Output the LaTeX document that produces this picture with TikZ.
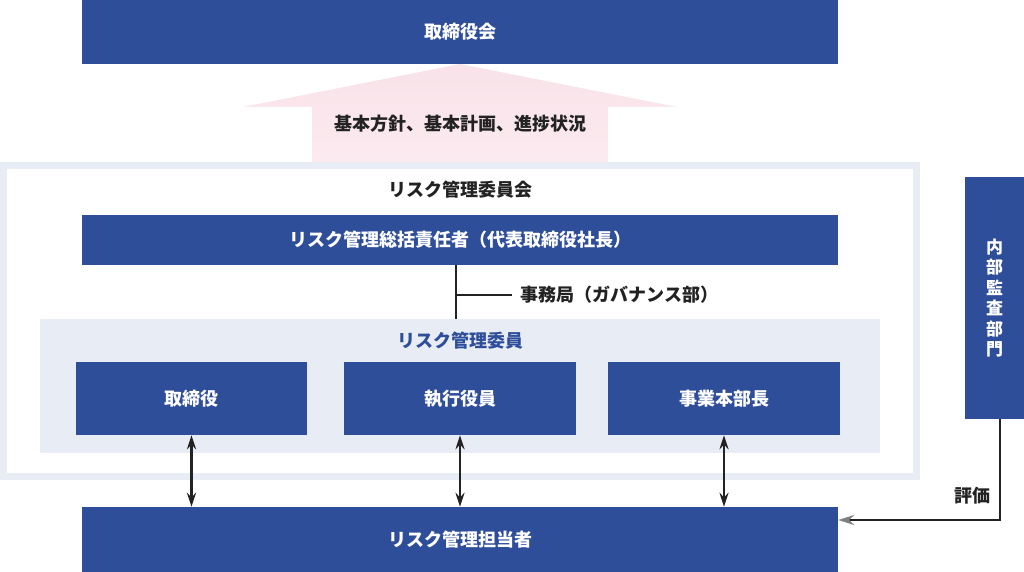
\documentclass[tikz,border=0pt]{standalone}
\usepackage{fontspec}
\setmainfont{Noto Sans CJK JP}
\usetikzlibrary{arrows.meta}
\definecolor{navy}{HTML}{2F4E9A}
\definecolor{pale}{HTML}{E8ECF5}
\definecolor{blush}{HTML}{F9E2E9}
\definecolor{ink}{HTML}{222222}
\begin{document}
\begin{tikzpicture}[x=1pt,y=-1pt,
    box/.style={fill=navy,text=white,inner sep=0pt,font=\bfseries\fontsize{18}{20}\selectfont},
    lbl/.style={text=ink,font=\bfseries\fontsize{18}{20}\selectfont},
    link/.style={line width=2.5pt,{Stealth[length=14pt,width=9pt]}-{Stealth[length=14pt,width=9pt]}}]
  \useasboundingbox (0,0) rectangle (1024,572);
  % upward flow
  \shade[top color=blush,bottom color=blush!70] (312,164) -- (312,107) -- (243,107) -- (460,64)
    -- (677,107) -- (608,107) -- (608,164) -- cycle;
  \node[lbl] (policy) at (460,124) {基本方針、基本計画、進捗状況};
  % committee frame
  \node[draw=pale,line width=7pt,minimum width=913pt,minimum height=311pt] (committee) at (460,321) {};
  \node[fill=pale,minimum width=840pt,minimum height=134pt] (members) at (460,386) {};
  \draw
    (460,32) node[box,minimum width=756pt,minimum height=64pt] (board){取締役会}
    (460,190) node[lbl] (cttl){リスク管理委員会}
    (460,240) node[box,minimum width=756pt,minimum height=50pt] (chief){リスク管理総括責任者（代表取締役社長）}
    (460,341) node[lbl,text=navy] (mttl){リスク管理委員}
    (191.5,398.5) node[box,minimum width=231pt,minimum height=73pt] (director){取締役}
    (460,398.5) node[box,minimum width=232pt,minimum height=73pt] (officer){執行役員}
    (724,398.5) node[box,minimum width=232pt,minimum height=73pt] (head){事業本部長}
    (460,539.5) node[box,minimum width=756pt,minimum height=65pt] (staff){リスク管理担当者}
    (994.5,298) node[box,minimum width=59pt,minimum height=242pt,align=center,
      font=\bfseries\fontsize{17}{20.5}\selectfont] (audit){内\\部\\監\\査\\部\\門}
    (517,295) node[lbl,anchor=west] (office){事務局（ガバナンス部）}
    (972,496) node[lbl] (eval){評価};
  \coordinate (tap) at (456,295);
  \begin{scope}[line width=2.5pt,ink]
    \draw ([xshift=-4pt]chief.south) -- ([xshift=-4pt]members.north);
    \draw (tap) -- ([xshift=-5pt]office.west);
    \draw[link] (director.south) -- (director.south |- staff.north);
    \draw[link] (officer.south) -- (officer.south |- staff.north);
    \draw[link] (head.south) -- (head.south |- staff.north);
    \draw[-{Stealth[length=16pt,width=10pt,color=gray]}] ([xshift=5.5pt]audit.south) |- ([yshift=19.5pt]staff.east);
  \end{scope}
\end{tikzpicture}
\end{document}
